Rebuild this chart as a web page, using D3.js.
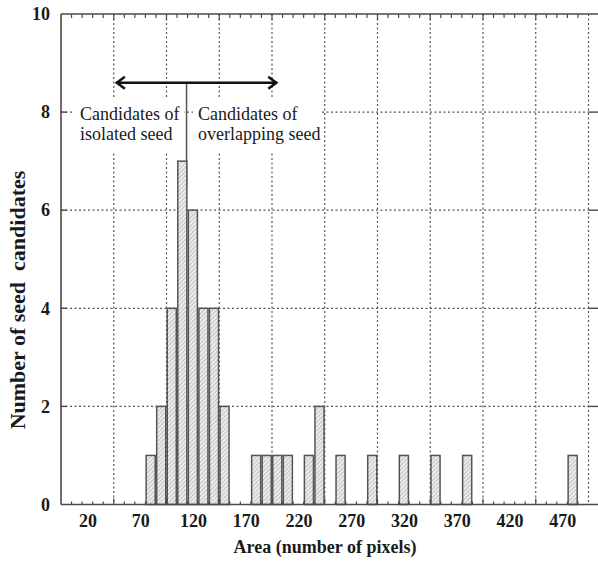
<!DOCTYPE html>
<html>
<head>
<meta charset="utf-8">
<script src="https://cdn.jsdelivr.net/npm/d3@7"></script>
<style>
  html, body { margin: 0; padding: 0; background: #fff; }
  svg { display: block; }
  text { font-family: "Liberation Serif", "Times New Roman", serif; }
</style>
</head>
<body>
<svg id="chart" width="598" height="564"></svg>
<script>
// ---- data ----
const binCenters = [80, 90, 100, 110, 120, 130, 140, 150, 180, 190, 200, 210, 230, 240, 260, 290, 320, 350, 380, 480];
const counts     = [1,  2,  4,   7,   6,   4,   4,   2,   1,   1,   1,   1,   1,   2,   1,   1,   1,   1,   1,   1];
const xTickLabels = [20, 70, 120, 170, 220, 270, 320, 370, 420, 470];
const xGridValues = [45, 95, 145, 195, 245, 295, 345, 395, 445, 495];
const yTickValues = [0, 2, 4, 6, 8, 10];
const arrowRange = [47, 200];
const arrowLevel = 8.6;
const thresholdValue = 114;
const leftLabel = ["Candidates of", "isolated seed"];
const rightLabel = ["Candidates of", "overlapping seed"];
const xTitle = "Area (number of pixels)";
const yTitle = "Number of seed  candidates";

// ---- layout ----
const svg = d3.select("#chart");
const x = d3.scaleLinear().domain([-5, 495]).range([61, 588.5]);
const y = d3.scaleLinear().domain([0, 10]).range([504.5, 14]);
const binWidth = 10;
const axisColor = "#4a4a4a";
const gridColor = "#555";

// hatch pattern
const defs = svg.append("defs");
const pat = defs.append("pattern")
  .attr("id", "hatch").attr("patternUnits", "userSpaceOnUse")
  .attr("width", 3).attr("height", 3)
  .attr("patternTransform", "rotate(45)");
pat.append("rect").attr("width", 3).attr("height", 3).attr("fill", "#ececec");
pat.append("line").attr("x1", 0).attr("y1", 0).attr("x2", 0).attr("y2", 3)
  .attr("stroke", "#9a9a9a").attr("stroke-width", 1);

// gridlines (vertical)
svg.append("g").selectAll("line").data(xGridValues).join("line")
  .attr("x1", d => x(d)).attr("x2", d => x(d))
  .attr("y1", y(10)).attr("y2", y(0))
  .attr("stroke", gridColor).attr("stroke-width", 1.2)
  .attr("stroke-dasharray", "2,2.5");
// gridlines (horizontal)
svg.append("g").selectAll("line").data(yTickValues.filter(d => d > 0 && d < 10)).join("line")
  .attr("x1", x(-5)).attr("x2", x(495))
  .attr("y1", d => y(d)).attr("y2", d => y(d))
  .attr("stroke", gridColor).attr("stroke-width", 1.2)
  .attr("stroke-dasharray", "2,2.5");

// white boxes behind the annotation text
svg.append("rect").attr("x", 73).attr("y", 97).attr("width", 111).attr("height", 54).attr("fill", "#fff");
svg.append("rect").attr("x", 193).attr("y", 97).attr("width", 129).attr("height", 54).attr("fill", "#fff");

// threshold line
svg.append("line")
  .attr("x1", x(thresholdValue)).attr("x2", x(thresholdValue))
  .attr("y1", y(arrowLevel)).attr("y2", y(6.5))
  .attr("stroke", "#555").attr("stroke-width", 1.5);

// bars
const data = binCenters.map((c, i) => ({c, n: counts[i]}));
svg.append("g").selectAll("rect").data(data).join("rect")
  .attr("x", d => x(d.c - binWidth * 0.43))
  .attr("width", d => x(d.c + binWidth * 0.43) - x(d.c - binWidth * 0.43))
  .attr("y", d => y(d.n))
  .attr("height", d => y(0) - y(d.n))
  .attr("fill", "url(#hatch)")
  .attr("stroke", "#555").attr("stroke-width", 1.5);

// frame lines
svg.append("line").attr("x1", x(-5)).attr("x2", 598).attr("y1", y(0)).attr("y2", y(0))
  .attr("stroke", axisColor).attr("stroke-width", 1.6);
svg.append("line").attr("x1", x(-5)).attr("x2", 598).attr("y1", y(10)).attr("y2", y(10))
  .attr("stroke", axisColor).attr("stroke-width", 1.6);
svg.append("line").attr("x1", x(-5)).attr("x2", x(-5)).attr("y1", y(10)).attr("y2", y(0))
  .attr("stroke", axisColor).attr("stroke-width", 1.6);

// minor ticks on bottom and top
const minor = d3.range(5, 495, 10);
svg.append("g").selectAll("line").data(minor).join("line")
  .attr("x1", d => x(d)).attr("x2", d => x(d))
  .attr("y1", y(0)).attr("y2", d => y(0) - (xGridValues.includes(d) ? 6 : 3))
  .attr("stroke", axisColor).attr("stroke-width", 1.2);
svg.append("g").selectAll("line").data(minor).join("line")
  .attr("x1", d => x(d)).attr("x2", d => x(d))
  .attr("y1", y(10)).attr("y2", d => y(10) + (xGridValues.includes(d) ? 6 : 4))
  .attr("stroke", axisColor).attr("stroke-width", 1.2);
// y ticks left (inward) and right (outward)
svg.append("g").selectAll("line").data(yTickValues.filter(d => d > 0 && d < 10)).join("line")
  .attr("x1", x(-5)).attr("x2", x(-5) + 6)
  .attr("y1", d => y(d)).attr("y2", d => y(d))
  .attr("stroke", axisColor).attr("stroke-width", 1.4);
svg.append("g").selectAll("line").data(yTickValues.filter(d => d > 0 && d < 10)).join("line")
  .attr("x1", x(495)).attr("x2", 598)
  .attr("y1", d => y(d)).attr("y2", d => y(d))
  .attr("stroke", axisColor).attr("stroke-width", 1.4);

// axis labels via d3 axes
const xAxis = svg.append("g").attr("transform", `translate(0,${y(0)})`)
  .call(d3.axisBottom(x).tickValues(xTickLabels).tickSize(0).tickPadding(10));
xAxis.select(".domain").remove();
xAxis.selectAll("text").attr("font-size", 18).attr("font-weight", "bold")
  .attr("fill", "#1a1a1a").attr("font-family", "Liberation Serif, serif");

const yAxis = svg.append("g").attr("transform", `translate(${x(-5)},0)`)
  .call(d3.axisLeft(y).tickValues(yTickValues).tickSize(0).tickPadding(11));
yAxis.select(".domain").remove();
yAxis.selectAll("text").attr("font-size", 18).attr("font-weight", "bold")
  .attr("fill", "#1a1a1a").attr("font-family", "Liberation Serif, serif");

// axis titles
svg.append("text").attr("x", 325).attr("y", 553).attr("text-anchor", "middle")
  .attr("font-size", 18).attr("font-weight", "bold").attr("fill", "#1a1a1a")
  .text(xTitle);
svg.append("text").attr("transform", "translate(25,300) rotate(-90)")
  .attr("text-anchor", "middle").attr("font-size", 22).attr("font-weight", "bold")
  .attr("fill", "#1a1a1a").attr("xml:space", "preserve").style("white-space", "pre")
  .text(yTitle);

// arrow
const ay = y(arrowLevel);
const ax0 = x(arrowRange[0]), ax1 = x(arrowRange[1]);
svg.append("line").attr("x1", ax0).attr("x2", ax1).attr("y1", ay).attr("y2", ay)
  .attr("stroke", "#111").attr("stroke-width", 2.5);
svg.append("path").attr("d", `M${ax0 + 9},${ay - 6} L${ax0 + 1},${ay} L${ax0 + 9},${ay + 6}`)
  .attr("fill", "none").attr("stroke", "#111").attr("stroke-width", 2.5);
svg.append("path").attr("d", `M${ax1 - 9},${ay - 6} L${ax1 - 1},${ay} L${ax1 - 9},${ay + 6}`)
  .attr("fill", "none").attr("stroke", "#111").attr("stroke-width", 2.5);

// annotation text
const lt = svg.append("text").attr("font-size", 18).attr("fill", "#1a1a1a");
leftLabel.forEach((s, i) => lt.append("tspan").attr("x", 80).attr("y", 120 + i * 20).text(s));
const rt = svg.append("text").attr("font-size", 18).attr("fill", "#1a1a1a");
rightLabel.forEach((s, i) => rt.append("tspan").attr("x", 198).attr("y", 120 + i * 20).text(s));
</script>
</body>
</html>
